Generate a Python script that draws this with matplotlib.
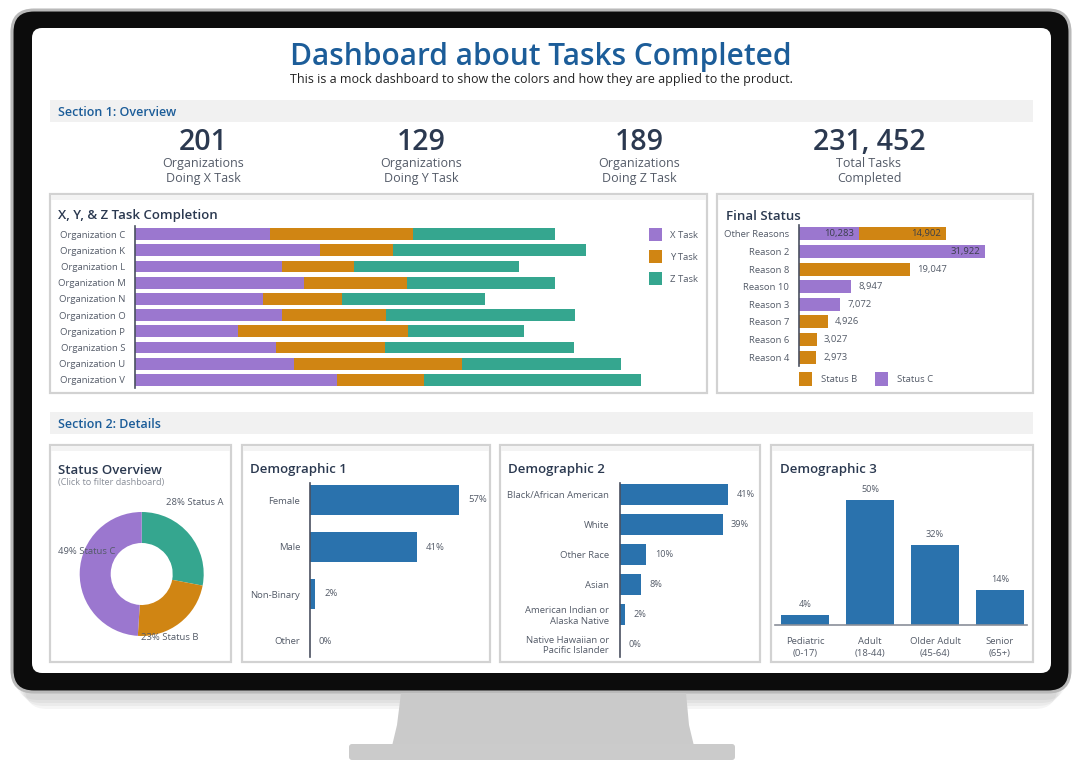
import matplotlib
matplotlib.use('Agg')
import matplotlib.pyplot as plt
from matplotlib.patches import Rectangle, FancyBboxPatch, Polygon

W, H = 1083, 768

# ---------------- data ----------------
kpi_values = ["201", "129", "189", "231, 452"]
kpi_labels = ["Organizations\nDoing X Task", "Organizations\nDoing Y Task",
              "Organizations\nDoing Z Task", "Total Tasks\nCompleted"]

orgs = ["Organization C", "Organization K", "Organization L", "Organization M", "Organization N",
        "Organization O", "Organization P", "Organization S", "Organization U", "Organization V"]
task_names = ["X Task", "Y Task", "Z Task"]
x_task = [135, 185, 147, 169, 128, 147, 103, 141, 159, 202]
y_task = [143, 73, 72, 103, 79, 104, 170, 109, 168, 87]
z_task = [142, 193, 165, 148, 143, 189, 116, 189, 159, 217]

reasons = ["Other Reasons", "Reason 2", "Reason 8", "Reason 10", "Reason 3",
           "Reason 7", "Reason 6", "Reason 4"]
status_b = [14902, 0, 19047, 0, 0, 4926, 3027, 2973]
status_c = [10283, 31922, 0, 8947, 7072, 0, 0, 0]
status_names = ["Status B", "Status C"]

overview_names = ["Status A", "Status B", "Status C"]
overview_pct = [28, 23, 49]

demo1_cats = ["Female", "Male", "Non-Binary", "Other"]
demo1_pct = [57, 41, 2, 0]
demo2_cats = ["Black/African American", "White", "Other Race", "Asian",
              "American Indian or\nAlaska Native", "Native Hawaiian or\nPacific Islander"]
demo2_pct = [41, 39, 10, 8, 2, 0]
demo3_cats = ["Pediatric\n(0-17)", "Adult\n(18-44)", "Older Adult\n(45-64)", "Senior\n(65+)"]
demo3_pct = [4, 50, 32, 14]

# ---------------- style ----------------
PURPLE = '#9B77CF'
ORANGE = '#D08513'
TEAL = '#35A68F'
BLUE = '#2A72AD'
TITLE_BLUE = '#1C5D99'
NAVY = '#2B3950'
GRAY = '#545B68'
AXIS = '#4A5060'

plt.rcParams['font.family'] = ['Open Sans', 'DejaVu Sans']

fig = plt.figure(figsize=(W / 100, H / 100), dpi=100)
fig.patch.set_facecolor('white')

bg = fig.add_axes([0, 0, 1, 1])
bg.set_xlim(0, W)
bg.set_ylim(H, 0)
bg.axis('off')


def add_ax(l, t, r, b):
    return fig.add_axes([l / W, 1 - b / H, (r - l) / W, (b - t) / H])


# ---------------- monitor ----------------
for i, a in enumerate([0.04, 0.04, 0.04, 0.04]):
    bg.add_patch(FancyBboxPatch((16 + i * 3, 16 + i * 3), 1050 - i * 6, 684,
                                boxstyle="round,pad=0,rounding_size=22",
                                fc='black', ec='none', alpha=a, zorder=0))
bg.add_patch(FancyBboxPatch((12, 10), 1058, 682, boxstyle="round,pad=0,rounding_size=22",
                            fc='#0c0c0c', ec='#b9b9b9', lw=2.2, zorder=1))
bg.add_patch(FancyBboxPatch((32, 28), 1019, 645, boxstyle="round,pad=0,rounding_size=10",
                            fc='white', ec='none', zorder=2))
bg.add_patch(Polygon([(401, 693), (686, 693), (689, 725), (694, 746), (392, 746), (397, 725)],
                     closed=True, fc='#cacaca', ec='none', zorder=1))
bg.add_patch(FancyBboxPatch((349, 744), 386, 16, boxstyle="round,pad=0,rounding_size=3",
                            fc='#cbcbcb', ec='none', zorder=1))

# ---------------- header ----------------
bg.text(541, 57, "Dashboard about Tasks Completed", ha='center', va='center',
        fontsize=21.5, fontweight='semibold', color=TITLE_BLUE, zorder=5)
bg.text(541, 79, "This is a mock dashboard to show the colors and how they are applied to the product.",
        ha='center', va='center', fontsize=9, color='#222222', zorder=5)

for (y0, label) in [(100, "Section 1: Overview"), (412, "Section 2: Details")]:
    bg.add_patch(Rectangle((50, y0), 983, 22, fc='#f1f1f1', ec='none', zorder=3))
    bg.text(58, y0 + 12, label, ha='left', va='center', fontsize=9, fontweight='semibold',
            color=TITLE_BLUE, zorder=5)

kpi_x = [203, 421, 639, 869]
for x, v, lab in zip(kpi_x, kpi_values, kpi_labels):
    bg.text(x, 143, v, ha='center', va='center', fontsize=20.5, fontweight='semibold', color=NAVY, zorder=5)
    bg.text(x, 171, lab, ha='center', va='center', fontsize=9, color=GRAY, linespacing=1.25, zorder=5)

# ---------------- panels ----------------
panels = [(50, 194, 707, 393), (717, 194, 1033, 393),
          (50, 445, 231, 662), (242, 445, 490, 662), (500, 445, 760, 662), (771, 445, 1033, 662)]
for (l, t, r, b) in panels:
    bg.add_patch(Rectangle((l, t), r - l, b - t, fc='white', ec='#d2d2d2', lw=1.6, zorder=3))
    bg.add_patch(Rectangle((l + 1, t + 1), r - l - 2, 5, fc='#f3f3f3', ec='none', zorder=3))

titles = [(58, 216, "X, Y, & Z Task Completion"), (726, 216, "Final Status"),
          (58, 470, "Status Overview"), (250, 470, "Demographic 1"),
          (508, 470, "Demographic 2"), (780, 470, "Demographic 3")]
for x, y, s in titles:
    bg.text(x, y, s, ha='left', va='center', fontsize=9.5, fontweight='semibold', color=NAVY, zorder=5)
bg.text(58, 482, "(Click to filter dashboard)", ha='left', va='center', fontsize=6.6,
        color='#8a8f99', zorder=5)


def style_hbar(ax):
    for s in ['top', 'right', 'bottom']:
        ax.spines[s].set_visible(False)
    ax.spines['left'].set_color(AXIS)
    ax.spines['left'].set_linewidth(1.2)
    ax.set_xticks([])
    ax.tick_params(axis='y', length=0, pad=7, labelsize=6.8, labelcolor=GRAY)
    ax.patch.set_alpha(0)


# ---------------- X, Y, Z task completion ----------------
ax1 = add_ax(135, 226, 645, 388)
ypos = list(range(len(orgs)))
left = [0] * len(orgs)
for vals, col in zip([x_task, y_task, z_task], [PURPLE, ORANGE, TEAL]):
    ax1.barh(ypos, vals, left=left, height=0.72, color=col, lw=0)
    left = [a + b for a, b in zip(left, vals)]
ax1.set_ylim(len(orgs) - 0.5, -0.5)
ax1.set_xlim(0, 510)
ax1.set_yticks(ypos)
ax1.set_yticklabels(orgs)
style_hbar(ax1)
for i, (name, col) in enumerate(zip(task_names, [PURPLE, ORANGE, TEAL])):
    bg.add_patch(Rectangle((649, 228 + 22 * i), 13, 13, fc=col, ec='none', zorder=5))
    bg.text(670, 235 + 22 * i, name, ha='left', va='center', fontsize=6.8, color=GRAY, zorder=5)

# ---------------- Final status ----------------
ax2 = add_ax(799, 225, 1030, 366)
rp = list(range(len(reasons)))
ax2.barh(rp, status_c, height=0.74, color=PURPLE, lw=0)
ax2.barh(rp, status_b, left=status_c, height=0.74, color=ORANGE, lw=0)
ax2.set_ylim(len(reasons) - 0.5, -0.5)
xmax2 = 39640
ax2.set_xlim(0, xmax2)
ax2.set_yticks(rp)
ax2.set_yticklabels(reasons)
style_hbar(ax2)
vmax = max(max(status_b), max(status_c))
pad = xmax2 * 0.03
for i, (b, c) in enumerate(zip(status_b, status_c)):
    both = b > 0 and c > 0
    cum = 0
    for v in [c, b]:
        if v > 0:
            end = cum + v
            if both or v == vmax:
                ax2.text(end - pad * 0.7, i, f"{v:,}", ha='right', va='center', fontsize=6.8, color='#3a3f4a')
            else:
                ax2.text(end + pad, i, f"{v:,}", ha='left', va='center', fontsize=6.8, color=GRAY)
            cum = end
for i, (name, col) in enumerate(zip(status_names, [ORANGE, PURPLE])):
    bg.add_patch(Rectangle((799 + 76 * i, 372), 13, 14, fc=col, ec='none', zorder=5))
    bg.text(821 + 76 * i, 379.5, name, ha='left', va='center', fontsize=6.8, color=GRAY, zorder=5)

# ---------------- Status overview donut ----------------
axp = add_ax(79.7, 512, 203.7, 636)
axp.pie(overview_pct, colors=[TEAL, ORANGE, PURPLE], startangle=90, counterclock=False,
        radius=1, wedgeprops=dict(width=0.5, lw=0))
axp.set_xlim(-1, 1)
axp.set_ylim(-1, 1)
axp.set_aspect('equal')
label_pos = [(0.86, 1.16), (0.46, -1.02), (-0.88, 0.37)]
for (lx, ly), n, p in zip(label_pos, overview_names, overview_pct):
    axp.text(lx, ly, f"{p}% {n}", ha='center', va='center', fontsize=6.8, color=GRAY, clip_on=False)

# ---------------- Demographic 1 ----------------
ax3 = add_ax(310, 476.5, 480, 664.5)
p3 = list(range(len(demo1_cats)))
ax3.barh(p3, demo1_pct, height=0.64, color=BLUE, lw=0)
ax3.set_ylim(len(demo1_cats) - 0.5, -0.5)
ax3.set_xlim(0, 65)
ax3.set_yticks(p3)
ax3.set_yticklabels(demo1_cats)
style_hbar(ax3)
ax3.spines['left'].set_bounds(-0.36, 3.34)
for i, v in enumerate(demo1_pct):
    ax3.text(v + 3.4, i, f"{v}%", ha='left', va='center', fontsize=6.8, color=GRAY)

# ---------------- Demographic 2 ----------------
ax4 = add_ax(620, 480, 750, 659)
p4 = list(range(len(demo2_cats)))
ax4.barh(p4, demo2_pct, height=0.7, color=BLUE, lw=0)
ax4.set_ylim(len(demo2_cats) - 0.5, -0.5)
ax4.set_xlim(0, 49.4)
ax4.set_yticks(p4)
ax4.set_yticklabels(demo2_cats)
style_hbar(ax4)
ax4.tick_params(axis='y', labelsize=6.8, pad=8)
ax4.spines['left'].set_bounds(-0.4, 5.44)
for i, v in enumerate(demo2_pct):
    ax4.text(v + 3.2, i, f"{v}%", ha='left', va='center', fontsize=6.6, color=GRAY)

# ---------------- Demographic 3 ----------------
ax5 = add_ax(772.5, 475, 1032.5, 625)
p5 = list(range(len(demo3_cats)))
ax5.bar(p5, demo3_pct, width=0.74, color=BLUE, lw=0)
ax5.set_xlim(-0.5, len(demo3_cats) - 0.5)
ax5.set_ylim(0, 60)
ax5.set_xticks(p5)
ax5.set_xticklabels(demo3_cats, linespacing=1.35)
for s in ['top', 'right', 'left']:
    ax5.spines[s].set_visible(False)
ax5.spines['bottom'].set_color('#8a8f99')
ax5.spines['bottom'].set_linewidth(1.2)
ax5.spines['bottom'].set_bounds(-0.46, 3.42)
ax5.set_yticks([])
ax5.tick_params(axis='x', length=0, pad=9, labelsize=6.8, labelcolor=GRAY)
ax5.patch.set_alpha(0)
for i, v in enumerate(demo3_pct):
    ax5.text(i, v + 4.2, f"{v}%", ha='center', va='center', fontsize=6.6, color=GRAY)

fig.savefig('out.png', dpi=100, facecolor='white')
